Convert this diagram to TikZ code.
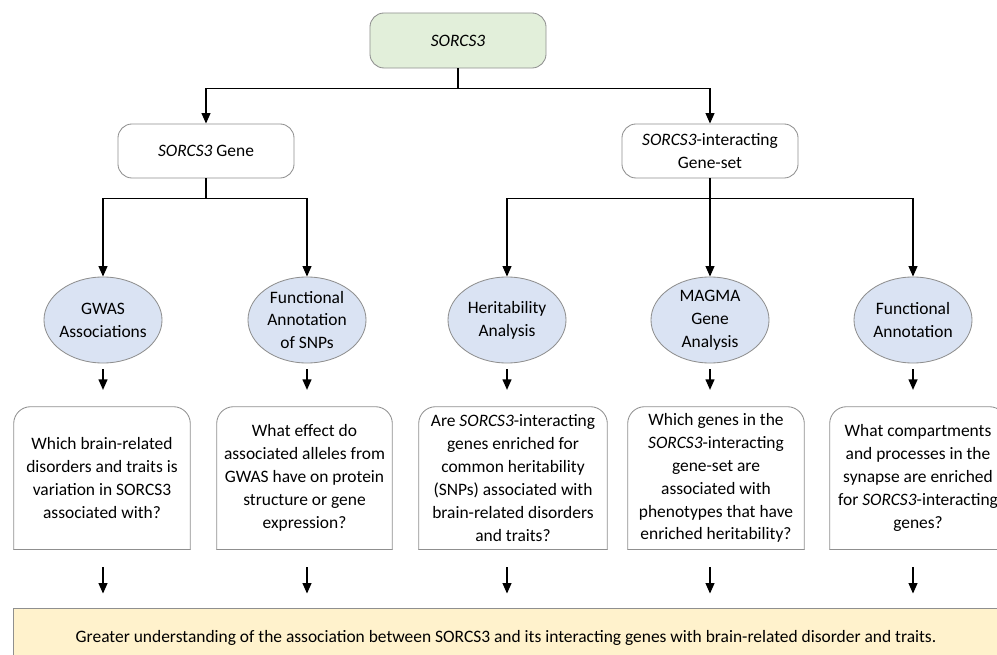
\documentclass[tikz,border=0pt]{standalone}
\usepackage{fontspec}
\setmainfont{Carlito}
\usetikzlibrary{shapes.geometric,arrows.meta}
\definecolor{mintfill}{HTML}{E2EFDA}
\definecolor{skyfill}{HTML}{DAE3F3}
\definecolor{creamfill}{HTML}{FFF2CC}
\definecolor{edgegray}{HTML}{8F8F8F}
\begin{document}
\begin{tikzpicture}[x=0.025cm, y=-0.025cm,
  txt/.style={font=\fontsize{12.4}{16.3}\selectfont, align=center},
  genebox/.style={txt, draw=edgegray, line width=0.6pt, rounded corners=10pt,
    minimum width=4.4cm, minimum height=1.35cm, inner sep=2pt},
  method/.style={txt, ellipse, draw=edgegray, line width=0.6pt, fill=skyfill,
    minimum width=2.95cm, minimum height=2.15cm, inner sep=-3pt},
  question/.style={txt, minimum height=3.55cm, inner sep=0pt},
  qframe/.style={edgegray, line width=0.6pt, line cap=round},
  link/.style={black, line width=1pt},
  arr/.style={link, -{Triangle[length=0.26cm, width=0.22cm]}},
]
  \useasboundingbox (0,0) rectangle (997,655);
  \clip (0,0) rectangle (997,655);

  % Root and the two branches
  \node[genebox, fill=mintfill, minimum height=1.375cm] (root) at (458,40.5) {\textit{SORCS3}};
  \node[genebox] (gene) at (206,151) {\textit{SORCS3} Gene};
  \node[genebox] (geneset) at (710,151) {\textit{SORCS3}-interacting\\Gene-set};

  % Analyses
  \node[method] (gwas) at (103,320) {GWAS\\Associations};
  \node[method] (snpfun) at (307,320) {Functional\\Annotation\\of SNPs};
  \node[method] (herit) at (507,320) {Heritability\\Analysis};
  \node[method] (magma) at (710,320) {MAGMA\\Gene\\Analysis};
  \node[method] (synfun) at (913,320) {Functional\\Annotation};

  % Questions
  \node[question, minimum width=4.4cm] (q1) at (102,478)
    {Which brain-related\\disorders and traits is\\variation in SORCS3\\associated with?};
  \node[question, minimum width=4.375cm] (q2) at (304.5,478)
    {What effect do\\associated alleles from\\GWAS have on protein\\structure or gene\\expression?};
  \node[question, minimum width=4.7cm] (q3) at (513,478)
    {Are \textit{SORCS3}-interacting\\genes enriched for\\common heritability\\(SNPs) associated with\\brain-related disorders\\and traits?};
  \node[question, minimum width=4.4cm] (q4) at (716,478)
    {Which genes in the\\\textit{SORCS3}-interacting\\gene-set are\\associated with\\phenotypes that have\\enriched heritability?};
  \node[question, minimum width=4.4cm] (q5) at (918,478)
    {What compartments\\and processes in the\\synapse are enriched\\for \textit{SORCS3}-interacting\\genes?};
  \foreach \q in {q1,q2,q3,q4,q5} {
    \draw[qframe, rounded corners=12pt] (\q.south west) -- (\q.north west) -- (\q.north east) -- (\q.south east);
    \draw[qframe] (\q.south west) -- (\q.south east);
  }

  % Outcome
  \node[txt, draw=edgegray, line width=0.6pt, fill=creamfill, minimum width=24.6cm, minimum height=1.5cm]
    (outcome) at (506,638) {Greater understanding of the association between SORCS3 and its interacting genes with brain-related disorder and traits.};

  % Tree connectors
  \draw[link] (root.south) -- ++(0,20) coordinate (split0);
  \draw[arr] (split0) -| (gene.north);
  \draw[arr] (split0) -| (geneset.north);
  \draw[link] (gene.south) -- ++(0,20) coordinate (split1);
  \draw[arr] (split1) -| (gwas.north);
  \draw[arr] (split1) -| (snpfun.north);
  \draw[link] (geneset.south) -- ++(0,20) coordinate (split2);
  \draw[arr] (split2) -| (herit.north);
  \draw[arr] (split2) -- (magma.north);
  \draw[arr] (split2) -| (synfun.north);

  % Short arrows down to questions and outcome
  \foreach \e/\q in {gwas/q1, snpfun/q2, herit/q3, magma/q4, synfun/q5} {
    \draw[arr, shorten <=0.15cm, shorten >=0.42cm] (\e.south) -- (\e.south |- \q.north);
    \draw[arr, shorten <=0.45cm, shorten >=0.35cm] (\e.south |- \q.south) -- (\e.south |- outcome.north);
  }
\end{tikzpicture}
\end{document}
